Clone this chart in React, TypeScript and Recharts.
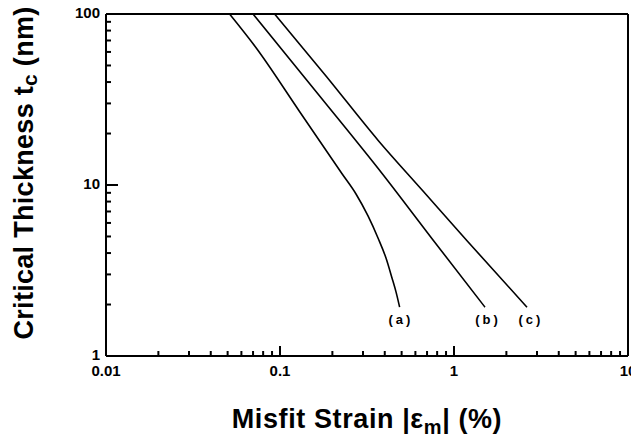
import React from 'react';
import { ComposedChart, Line, XAxis, YAxis, ReferenceLine, ReferenceDot, Label } from 'recharts';

const curveA = [
  { x: 0.0513, y: 100 },
  { x: 0.0725, y: 63.9 },
  { x: 0.1289, y: 27.1 },
  { x: 0.2278, y: 11.6 },
  { x: 0.2734, y: 8.86 },
  { x: 0.3205, y: 6.59 },
  { x: 0.3658, y: 4.9 },
  { x: 0.4066, y: 3.74 },
  { x: 0.4402, y: 2.86 },
  { x: 0.4642, y: 2.37 },
  { x: 0.487, y: 1.93 },
];
const curveB = [
  { x: 0.07, y: 100 },
  { x: 0.1654, y: 34.05 },
  { x: 0.3882, y: 11.6 },
  { x: 0.7575, y: 4.77 },
  { x: 1.507, y: 1.93 },
];
const curveC = [
  { x: 0.0931, y: 100 },
  { x: 0.1838, y: 43.4 },
  { x: 0.3677, y: 18.16 },
  { x: 0.6635, y: 9.22 },
  { x: 1.188, y: 4.72 },
  { x: 2.627, y: 1.93 },
];

const curveLabels = [
  { x: 0.495, y: 1.64, text: '(a)' },
  { x: 1.567, y: 1.64, text: '(b)' },
  { x: 2.77, y: 1.64, text: '(c)' },
];

// axis tick values
const xMajorTicks = [0.01, 0.1, 1, 10];
const xMajorLabels = ['0.01', '0.1', '1', '10'];
const xInnerMajor = [0.1, 1];
const xMinorTicks = [
  0.02, 0.03, 0.04, 0.05, 0.06, 0.07, 0.08, 0.09,
  0.2, 0.3, 0.4, 0.5, 0.6, 0.7, 0.8, 0.9,
  2, 3, 4, 5, 6, 7, 8, 9,
];
const yMajorTicks = [1, 10, 100];
const yMajorLabels = ['1', '10', '100'];
const yInnerMajor = [10];
const yMinorTicks = [2, 3, 4, 5, 6, 7, 8, 9, 20, 30, 40, 50, 60, 70, 80, 90];

const X_MIN = 0.01;
const X_MAX = 10;
const Y_MIN = 1;
const Y_MAX = 100;

const FONT = '"Liberation Sans", Arial, sans-serif';

const findMajor = (list: number[], v: number) =>
  list.findIndex((m) => Math.abs(m - v) / m < 1e-6);

const XTick = (props: any) => {
  const { x, y, payload } = props;
  const idx = findMajor(xMajorTicks, payload.value);
  if (idx < 0) return <g />;
  return (
    <text x={x} y={y + 20} textAnchor="middle" fontFamily={FONT} fontWeight="bold" fontSize={15} fill="#000">
      {xMajorLabels[idx]}
    </text>
  );
};

const YTick = (props: any) => {
  const { x, y, payload } = props;
  const idx = findMajor(yMajorTicks, payload.value);
  if (idx < 0) return <g />;
  return (
    <text x={x - 6} y={y + 4} textAnchor="end" fontFamily={FONT} fontWeight="bold" fontSize={15} fill="#000">
      {yMajorLabels[idx]}
    </text>
  );
};

// inward tick marks, drawn at the point that the library places for an anchor dot
const centerOf = (props: any) => {
  const vb = props.viewBox || {};
  return { cx: Number(vb.x) + (Number(vb.width) || 0) / 2, cy: Number(vb.y) + (Number(vb.height) || 0) / 2 };
};
const upMark = (len: number) => (props: any) => {
  const { cx, cy } = centerOf(props);
  return <path d={`M${cx},${cy}L${cx},${cy - len}`} stroke="#000" strokeWidth={2} fill="none" />;
};
const rightMark = (len: number) => (props: any) => {
  const { cx, cy } = centerOf(props);
  return <path d={`M${cx},${cy}L${cx + len},${cy}`} stroke="#000" strokeWidth={2} fill="none" />;
};

const XTitle = (props: any) => {
  const vb = props.viewBox;
  const cx = vb.x + vb.width / 2;
  return (
    <text x={cx} y={vb.y + 72} textAnchor="middle" fontFamily={FONT} fontWeight="bold" fontSize={27} letterSpacing={0.6} fill="#000">
      <tspan>Misfit Strain |ε</tspan>
      <tspan dy={6} fontSize={20}>m</tspan>
      <tspan dy={-6}>| (%)</tspan>
    </text>
  );
};

const YTitle = (props: any) => {
  const vb = props.viewBox;
  const cx = vb.x + 33;
  const cy = vb.y + vb.height / 2 - 12;
  return (
    <text
      x={cx}
      y={cy}
      transform={`rotate(-90, ${cx}, ${cy})`}
      textAnchor="middle"
      fontFamily={FONT}
      fontWeight="bold"
      fontSize={27}
      letterSpacing={0.3}
      fill="#000"
    >
      <tspan>Critical Thickness t</tspan>
      <tspan dy={4} fontSize={21}>c</tspan>
      <tspan dy={-4}> (nm)</tspan>
    </text>
  );
};

const CurveLabel = (text: string) => (props: any) => {
  const { cx, cy } = centerOf(props);
  return (
    <text x={cx} y={cy + 5} textAnchor="middle" fontFamily={FONT} fontWeight="bold" fontSize={13} letterSpacing={3} fill="#000">
      {text}
    </text>
  );
};

export default function App() {
  return (
    <div style={{ position: 'absolute', left: 0, top: 0, background: '#fff' }}>
      <ComposedChart width={631} height={439} margin={{ top: 14, right: 3, left: 0, bottom: 0 }}>
        <XAxis
          dataKey="x"
          type="number"
          scale="log"
          domain={[X_MIN, X_MAX]}
          ticks={xMajorTicks}
          interval={0}
          allowDataOverflow
          tickLine={false}
          tickSize={0}
          tickMargin={0}
          tick={<XTick />}
          axisLine={{ stroke: '#000', strokeWidth: 2 }}
          height={83}
        >
          <Label content={<XTitle />} />
        </XAxis>
        <YAxis
          dataKey="y"
          type="number"
          scale="log"
          domain={[Y_MIN, Y_MAX]}
          ticks={yMajorTicks}
          interval={0}
          allowDataOverflow
          tickLine={false}
          tickSize={0}
          tickMargin={0}
          tick={<YTick />}
          axisLine={{ stroke: '#000', strokeWidth: 2 }}
          width={106}
        >
          <Label content={<YTitle />} />
        </YAxis>
        <ReferenceLine y={Y_MAX} stroke="#000" strokeWidth={2} ifOverflow="visible" />
        <ReferenceLine x={X_MAX} stroke="#000" strokeWidth={2} ifOverflow="visible" />
        <Line data={curveA} dataKey="y" type="monotone" stroke="#000" strokeWidth={1.6} dot={false} isAnimationActive={false} />
        <Line data={curveB} dataKey="y" type="monotone" stroke="#000" strokeWidth={1.6} dot={false} isAnimationActive={false} />
        <Line data={curveC} dataKey="y" type="monotone" stroke="#000" strokeWidth={1.6} dot={false} isAnimationActive={false} />
        {xMinorTicks.map((v) => (
          <ReferenceDot key={`xm${v}`} x={v} y={Y_MIN} r={0} fill="none" stroke="none" ifOverflow="visible" label={{ content: upMark(5) } as any} />
        ))}
        {xInnerMajor.map((v) => (
          <ReferenceDot key={`xM${v}`} x={v} y={Y_MIN} r={0} fill="none" stroke="none" ifOverflow="visible" label={{ content: upMark(10) } as any} />
        ))}
        {yMinorTicks.map((v) => (
          <ReferenceDot key={`ym${v}`} x={X_MIN} y={v} r={0} fill="none" stroke="none" ifOverflow="visible" label={{ content: rightMark(5) } as any} />
        ))}
        {yInnerMajor.map((v) => (
          <ReferenceDot key={`yM${v}`} x={X_MIN} y={v} r={0} fill="none" stroke="none" ifOverflow="visible" label={{ content: rightMark(12) } as any} />
        ))}
        {curveLabels.map((l) => (
          <ReferenceDot key={l.text} x={l.x} y={l.y} r={0} fill="none" stroke="none" label={{ content: CurveLabel(l.text) } as any} />
        ))}
      </ComposedChart>
    </div>
  );
}
